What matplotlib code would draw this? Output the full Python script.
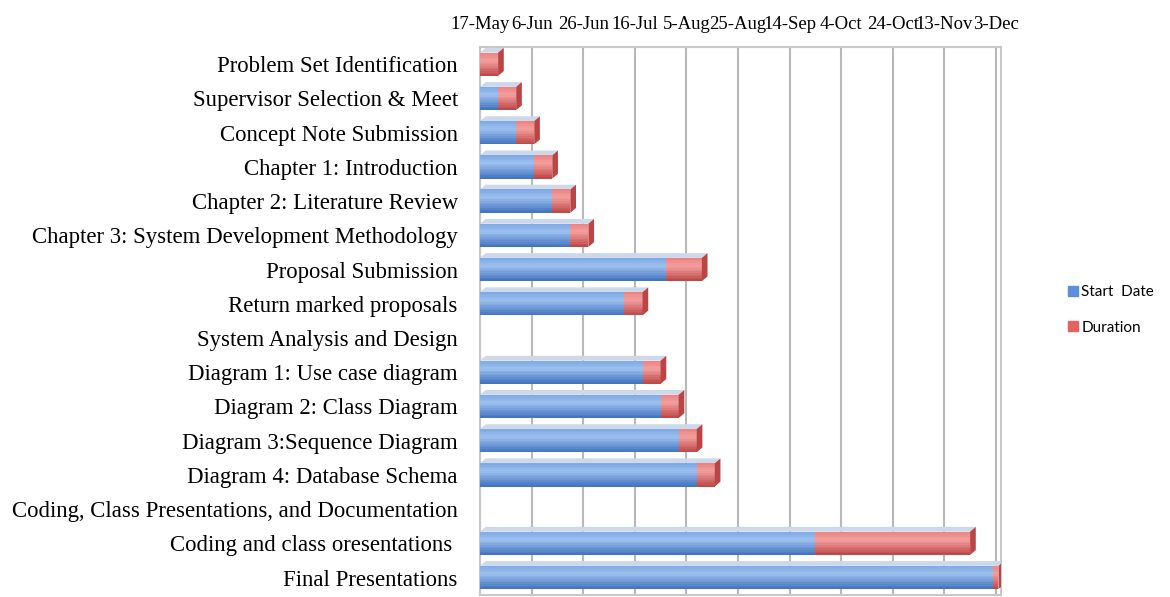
import matplotlib.pyplot as plt
import numpy as np
import pandas as pd
from matplotlib.lines import Line2D
from matplotlib.colors import to_rgb

# tasks, top to bottom
tasks = [
    "Problem Set Identification",
    "Supervisor Selection & Meet",
    "Concept Note Submission",
    "Chapter 1: Introduction",
    "Chapter 2: Literature Review",
    "Chapter 3: System Development Methodology",
    "Proposal Submission",
    "Return marked proposals",
    "System Analysis and Design",
    "Diagram 1: Use case diagram",
    "Diagram 2: Class Diagram",
    "Diagram 3:Sequence Diagram",
    "Diagram 4: Database Schema",
    "Coding, Class Presentations, and Documentation",
    "Coding and class oresentations ",
    "Final Presentations",
]
start_dates = [
    "2019-05-17", "2019-05-24", "2019-05-31", "2019-06-07", "2019-06-14",
    "2019-06-21", "2019-07-28", "2019-07-12", None, "2019-07-19",
    "2019-07-26", "2019-08-02", "2019-08-09", None, "2019-09-24",
    "2019-12-02",
]
durations = [7, 7, 7, 7, 7, 7, 14, 7, None, 7, 7, 7, 7, None, 60, 2]

axis_start = "2019-05-17"
tick_labels = ["17-May", "6-Jun", "26-Jun", "16-Jul", "5-Aug", "25-Aug",
               "14-Sep", "4-Oct", "24-Oct", "13-Nov", "3-Dec"]

origin = pd.Timestamp(axis_start)
start = np.array([(pd.Timestamp(d) - origin).days if d else np.nan for d in start_dates], dtype=float)
dur = np.array([d if d is not None else np.nan for d in durations], dtype=float)
ypos = np.arange(len(tasks))

blue, blue_hi, blue_lo = "#5b8fd9", "#9dc0ee", "#3f71bd"
red, red_hi, red_lo = "#e46262", "#f3a09e", "#bb4444"


def shade(c_hi, c_mid, c_lo, t):
    # t = 0 top, 1 bottom; light band near the upper third
    a, b, c = np.array(to_rgb(c_hi)), np.array(to_rgb(c_mid)), np.array(to_rgb(c_lo))
    if t < 0.35:
        k = t / 0.35
        return tuple(b * (1 - k) * 0.5 + a * (0.5 + 0.5 * k))
    k = (t - 0.35) / 0.65
    return tuple(a * (1 - k) + c * k)


fig = plt.figure(figsize=(11.7, 5.97), dpi=100)
ax = fig.add_axes([0.4103, 0.004, 0.4453, 0.917])

h = 0.68
ok = ~np.isnan(start)
y = ypos[ok]
s = start[ok]
d = dur[ok]

# bars drawn as thin stacked strips to get the shaded 3d look
n = 14
for i in range(n):
    t = (i + 0.5) / n
    yy = y - h / 2 + h * t
    ax.barh(yy, s, height=h / n * 1.05, color=shade(blue_hi, blue, blue_lo, t), lw=0, zorder=3)
    ax.barh(yy, d, left=s, height=h / n * 1.05, color=shade(red_hi, red, red_lo, t), lw=0, zorder=3)

# 3d top and side faces
dx, dy = 2.2, 0.14
for yy, ss, dd in zip(y, s, d):
    end = ss + dd
    top = yy - h / 2
    bot = yy + h / 2
    ax.fill([0, dx, end + dx, end], [top, top - dy, top - dy, top],
            color="#cdd8ea", zorder=2, lw=0)
    ax.fill([end, end + dx, end + dx, end], [top, top - dy, bot - dy, bot],
            color=red_lo, zorder=5, lw=0)

ax.set_xlim(0, 202)
ax.set_ylim(len(tasks) - 0.5, -0.5)
ax.set_xticks(np.arange(0, 201, 20))
ax.set_xticklabels(tick_labels, family="Liberation Serif", fontsize=13.5)
ax.xaxis.tick_top()
ax.tick_params(axis="x", length=0, pad=10)
ax.set_yticks(ypos)
ax.set_yticklabels(tasks, family="Liberation Serif", fontsize=16.4)
ax.tick_params(axis="y", length=0, pad=16)
ax.grid(axis="x", color="#b8b8b8", lw=1.5, zorder=0)
for side in ["top", "right", "left", "bottom"]:
    ax.spines[side].set_color("#c8c8c8")
    ax.spines[side].set_linewidth(1.5)

handles = [
    Line2D([], [], marker="s", ls="", color=blue, markersize=7, label="Start  Date"),
    Line2D([], [], marker="s", ls="", color=red, markersize=7, label="Duration"),
]
fig.legend(handles=handles, loc="upper left", bbox_to_anchor=(0.9, 0.545),
           frameon=False, labelspacing=1.4, handletextpad=0.15,
           handlelength=0.8, prop={"family": "Lato", "size": 11})

fig.savefig("out.png", dpi=100)
